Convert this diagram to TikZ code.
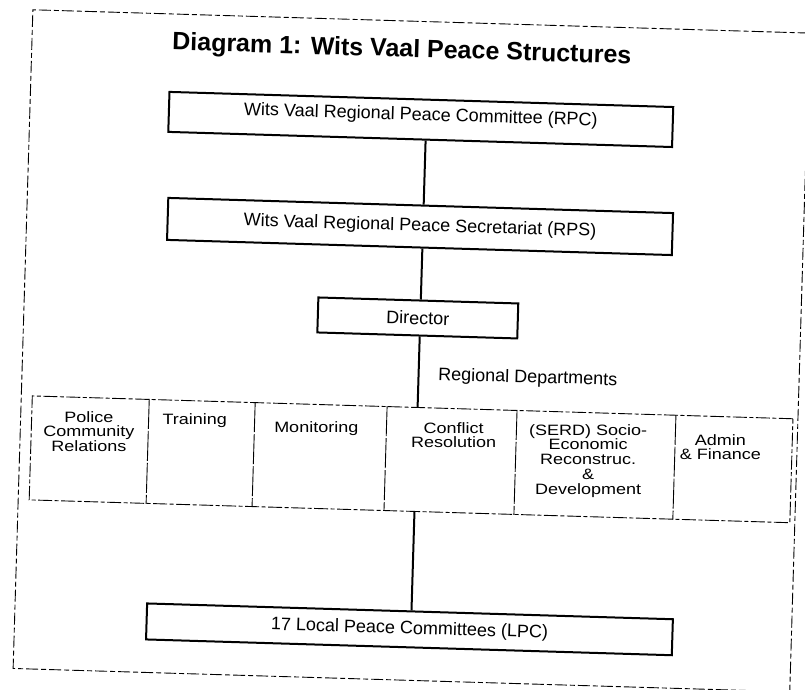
\documentclass[tikz,border=0pt]{standalone}
\usepackage{fontspec}
\setmainfont{Liberation Sans}
\newfontfamily\deptfont[FakeStretch=1.2]{Liberation Sans}
\begin{document}
\begin{tikzpicture}[x=1pt,y=-1pt,
  mainbox/.style={draw=black,line width=2pt,inner sep=0pt,font={\fontsize{18}{21}\selectfont}},
  titletext/.style={inner sep=0pt,font={\fontsize{25}{30}\selectfont\bfseries}},
  labeltext/.style={inner sep=0pt,font={\fontsize{18}{21}\selectfont}},
  depttext/.style={anchor=north,align=center,inner sep=0pt,rotate=1.72,font={\deptfont\fontsize{15}{14.8}\selectfont\lineskiplimit=-50pt\lineskip=0pt}},
  rowline/.style={line width=0.9pt,dash pattern=on 14pt off 2.5pt on 4pt off 2.5pt},
  divline/.style={line width=0.9pt,dash pattern=on 30pt off 2pt},
  frameline/.style={line width=0.9pt,dash pattern=on 12pt off 3pt on 5pt off 3pt},
  conn/.style={line width=2pt}
]
\useasboundingbox (0,0) rectangle (805,689);
\fill[white] (0,0) rectangle (805,689);
\clip (0,0) rectangle (805,689);
\begin{scope}[rotate around={-1.72:(402.5,344.5)},transform shape]
  % outer frame
  \node[frameline,draw,inner sep=0pt,minimum width=777pt,minimum height=659pt] (frame) at (411.5,350.5) {};
  % title
  \node[titletext,anchor=base] (title) at (393,57) {Diagram 1: Wits Vaal Peace Structures};
  % main boxes
  \node[mainbox,minimum width=504pt,minimum height=40pt,text height=13pt,text depth=11pt] (rpc) at (414,119) {Wits Vaal Regional Peace Committee (RPC)};
  \node[mainbox,minimum width=505pt,minimum height=42pt] (rps) at (416.5,226) {Wits Vaal Regional Peace Secretariat (RPS)};
  \node[mainbox,minimum width=200pt,minimum height=35pt] (dir) at (417,317.5) {Director};
  \node[mainbox,minimum width=526pt,minimum height=36pt] (lpc) at (418,629) {17 Local Peace Committees (LPC)};
  % departments row
  \node[rowline,draw,inner sep=0pt,minimum width=761pt,minimum height=104pt] (row) at (414.5,459) {};
  \coordinate (d1) at (151,0);
  \coordinate (d2) at (257,0);
  \coordinate (d3) at (389,0);
  \coordinate (d4) at (519,0);
  \coordinate (d5) at (678,0);
  \foreach \d in {d1,d2,d3,d4,d5}
    \draw[divline] (row.north -| \d) -- (row.south -| \d);
  \node[labeltext,anchor=base west] (regdep) at (439,379) {Regional Departments};
  \node[depttext] (pcr) at (91,420.4) {Police\\Community\\Relations};
  \node[depttext] (trn) at (197,420) {Training};
  \node[depttext] (mon) at (318.6,423.6) {Monitoring};
  \node[depttext] (cr) at (456,420.5) {Conflict\\Resolution};
  \node[depttext] (serd) at (590.5,418.5) {(SERD) Socio-\\Economic\\Reconstruc.\\\&\\Development};
  \node[depttext] (adm) at (723,424.4) {Admin\\\& Finance};
  % spine connectors
  \coordinate (spine) at (419.5,0);
  \draw[conn] (rpc.south -| spine) -- (rps.north -| spine);
  \draw[conn] (rps.south -| spine) -- (dir.north -| spine);
  \draw[conn] (dir.south -| spine) -- (row.north -| spine);
  \draw[conn] (row.south -| spine) -- (lpc.north -| spine);
\end{scope}
\end{tikzpicture}
\end{document}
